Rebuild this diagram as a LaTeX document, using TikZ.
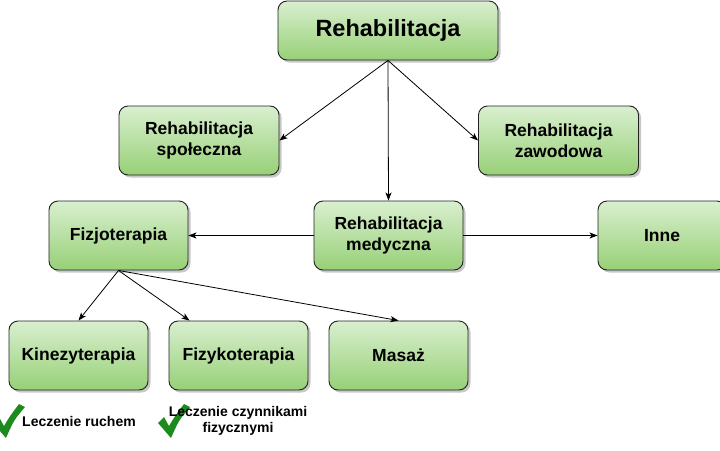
\documentclass[tikz,border=0pt]{standalone}
\usepackage{fontspec}
\setmainfont{Liberation Sans}
\usepackage{tikz}
\usetikzlibrary{positioning,arrows.meta,shadows,calc}
\definecolor{vclaro}{HTML}{D9EFCF}
\definecolor{voscuro}{HTML}{97D077}
\definecolor{vcheck}{HTML}{1C8A1C}
\definecolor{cborde}{HTML}{222222}
\tikzset{
  caja/.style={rectangle, rounded corners=9pt, draw=cborde, line width=0.9pt,
    top color=vclaro, bottom color=voscuro, minimum width=139pt, minimum height=69pt,
    align=center, font=\fontsize{17.5}{21}\selectfont\bfseries,
    drop shadow={shadow xshift=2.5pt, shadow yshift=-2.5pt, opacity=0.22, fill=black}},
  cajat/.style={caja, minimum width=220pt, minimum height=59pt,
    font=\fontsize{23.5}{27}\selectfont\bfseries},
  flecha/.style={-{Stealth[length=8pt,width=6pt,inset=2pt]}, line width=0.8pt, draw=black},
  visto/.style={fill=vcheck, draw=none},
  etq/.style={font=\fontsize{14}{16}\selectfont\bfseries, align=center, inner sep=0pt},
}
\begin{document}
\begin{tikzpicture}[x=1pt, y=-1pt]
  \useasboundingbox (0,0) rectangle (720,450);
  \node[cajat] (reh) at (388,30.5) {Rehabilitacja};
  \node[caja, minimum width=160pt] (spol) at (199,140.5) {Rehabilitacja\\społeczna};
  \node[caja, minimum width=160pt] (zaw) at (558.5,140.5) {Rehabilitacja\\zawodowa};
  \node[caja, minimum width=149pt] (med) at (388.5,235.5) {Rehabilitacja\\medyczna};
  \node[caja] (fizjo) at (118.5,235.5) {Fizjoterapia};
  \node[caja, minimum width=128pt] (inne) at (662,235.5) {Inne};
  \node[caja] (kin) at (78.5,355.5) {Kinezyterapia};
  \node[caja] (fizy) at (238.5,355.5) {Fizykoterapia};
  \node[caja] (mas) at (398.5,355.5) {Masaż};
  \draw[flecha] (reh.south)--(spol.east); \draw[flecha] (reh.south)--(zaw.west);
  \draw[flecha] (reh.south)--(med.north);
  \draw[flecha] (med.west)--(fizjo.east); \draw[flecha] (med.east)--(inne.west);
  \draw[flecha] (fizjo.south)--(kin.north);
  \draw[flecha] (fizjo.south)--($(fizy.north west)!0.15!(fizy.north east)$);
  \draw[flecha] (fizjo.south)--(mas.north);
  % leyenda
  \fill[visto] (-7,423) -- (-1,417) -- (4,426) .. controls (10,416) .. (19,404) -- (25,407)
    .. controls (14,420) .. (6,438) -- cycle;
  \node[etq, anchor=west] (ruch) at (22,421) {Leczenie ruchem};
  \fill[visto] (158,423) -- (164,417) -- (169,426) .. controls (175,416) .. (184,404) -- (190,407)
    .. controls (179,420) .. (171,438) -- cycle;
  \node[etq] (czyn) at (238,421) {Leczenie czynnikami\\fizycznymi};
\end{tikzpicture}
\end{document}
